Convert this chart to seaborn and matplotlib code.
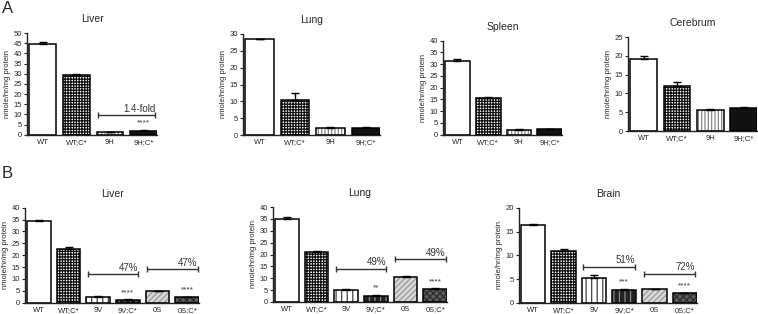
import matplotlib
matplotlib.use("Agg")
from matplotlib import pyplot as plt
from matplotlib.patches import Rectangle
import numpy as np
import seaborn as sns

# ---- data ----
groups_a = ["WT", "WT;C*", "9H", "9H;C*"]
groups_b = ["WT", "WT;C*", "9V", "9V;C*", "0S", "0S;C*"]

liver_a = [44.5, 29.3, 1.3, 1.9]
liver_a_err = [1.0, 0.5, 0.2, 0.3]
lung_a = [28.5, 10.5, 2.0, 2.1]
lung_a_err = [0.0, 2.0, 0.3, 0.2]
spleen_a = [31.5, 15.7, 2.2, 2.3]
spleen_a_err = [0.7, 0.5, 0.1, 0.1]
cerebrum_a = [19.2, 12.0, 5.5, 6.2]
cerebrum_a_err = [0.8, 1.0, 0.4, 0.2]

liver_b = [34.3, 22.8, 2.6, 1.3, 4.8, 2.3]
liver_b_err = [0.6, 0.8, 0.1, 0.1, 0.3, 0.1]
lung_b = [35.0, 21.0, 5.1, 2.5, 10.6, 5.3]
lung_b_err = [0.6, 0.3, 0.4, 0.5, 0.2, 0.4]
brain_b = [16.4, 11.0, 5.2, 2.7, 2.8, 2.0]
brain_b_err = [0.2, 0.3, 0.6, 0.2, 0.05, 0.1]

# comparison brackets: (first group, second group, bracket height, label, stars)
liver_a_marks = [("9H", "9H;C*", 9.7, "1.4-fold", "****")]
liver_b_marks = [("9V", "9V;C*", 12.0, "47%", "****"), ("0S", "0S;C*", 14.0, "47%", "****")]
lung_b_marks = [("9V", "9V;C*", 14.0, "49%", "**"), ("0S", "0S;C*", 18.0, "49%", "****")]
brain_b_marks = [("9V", "9V;C*", 7.6, "51%", "***"), ("0S", "0S;C*", 6.1, "72%", "****")]

# fill colour, hatch, hatch colour
styles = {
    "WT": ("white", "", "black"),
    "WT;C*": ("white", "++++++", "#111111"),
    "9H": ("white", "|||||", "#888888"),
    "9H;C*": ("#111111", "", "#111111"),
    "9V": ("white", "|||", "#444444"),
    "9V;C*": ("#222222", "|||", "#8a8a8a"),
    "0S": ("#d8d8d8", "//////", "#999999"),
    "0S;C*": ("#5e5e5e", "xxxxx", "#2a2a2a"),
}

sns.set_style("ticks")
plt.rcParams["font.family"] = ["Liberation Sans", "DejaVu Sans"]
plt.rcParams["hatch.linewidth"] = 0.9

fig = plt.figure(figsize=(7.58, 3.14), dpi=100)
W, H = 758.0, 314.0


def add_ax(x0, x1, ytop, ybot):
    return fig.add_axes([x0 / W, 1 - ybot / H, (x1 - x0) / W, (ybot - ytop) / H])


def panel(ax, groups, vals, errs, title, ymax, marks=()):
    sns.barplot(x=groups, y=vals, hue=groups, order=groups, hue_order=groups,
                palette={g: styles[g][0] for g in groups}, legend=False,
                errorbar=None, width=0.8, ax=ax, saturation=1)
    for p, g in zip(list(ax.patches), groups):
        fc, hatch, hc = styles[g]
        p.set_facecolor(fc)
        p.set_hatch(hatch)
        p.set_edgecolor(hc)
        p.set_linewidth(0)
        ax.add_patch(Rectangle((p.get_x(), p.get_y()), p.get_width(), p.get_height(),
                               fill=False, edgecolor="black", linewidth=1.1, zorder=3))
    xs = np.arange(len(groups))
    ax.errorbar(xs, vals, yerr=[np.zeros(len(errs)), errs], fmt="none",
                ecolor="black", elinewidth=1.0, capsize=3, capthick=1.0, zorder=4)
    for g1, g2, yb, label, stars in marks:
        i1, i2 = groups.index(g1), groups.index(g2)
        ax.plot([i1 - 0.35, i2 + 0.35], [yb, yb], color="#333333", lw=1.0,
                marker="|", markersize=5, markeredgewidth=1.0, zorder=4)
        ax.annotate(label, (i2 + 0.35, yb), xytext=(0, 1), textcoords="offset points",
                    ha="right", va="bottom", fontsize=7, color="#333333")
        ax.annotate(stars, (i2, vals[i2] + errs[i2]), xytext=(0, 2.5), textcoords="offset points",
                    ha="center", va="bottom", fontsize=6, color="#333333")
    ax.set_ylim(0, ymax)
    ax.set_xlim(-0.47, len(groups) - 0.6)
    ax.set_yticks(np.arange(0, ymax + 1, 5))
    ax.tick_params(axis="y", labelsize=5.5, length=2.5, width=0.8, pad=1)
    ax.tick_params(axis="x", labelsize=5.5, length=0, pad=3)
    ax.set_ylabel("nmole/hr/mg protein", fontsize=5.5, labelpad=2)
    ax.set_title(title, fontsize=7.5, pad=8)
    for s in ("top", "right"):
        ax.spines[s].set_visible(False)
    for s in ("left", "bottom"):
        ax.spines[s].set_linewidth(1.0)
        ax.spines[s].set_color("#222222")


panel(add_ax(27, 157, 33, 134.7), groups_a, liver_a, liver_a_err, "Liver", 50, liver_a_marks)
panel(add_ax(243, 380, 34, 135), groups_a, lung_a, lung_a_err, "Lung", 30)
panel(add_ax(443, 562, 40.7, 134.7), groups_a, spleen_a, spleen_a_err, "Spleen", 40)
panel(add_ax(628, 757, 37, 131), groups_a, cerebrum_a, cerebrum_a_err, "Cerebrum", 25)

panel(add_ax(25, 199, 207.7, 302.7), groups_b, liver_b, liver_b_err, "Liver", 40, liver_b_marks)
panel(add_ax(273, 447, 207, 302), groups_b, lung_b, lung_b_err, "Lung", 40, lung_b_marks)
panel(add_ax(519, 697, 208, 302.7), groups_b, brain_b, brain_b_err, "Brain", 20, brain_b_marks)

fig.text(2 / W, 1 - 1 / H, "A", fontsize=12, va="top", ha="left")
fig.text(2 / W, 1 - 166 / H, "B", fontsize=12, va="top", ha="left")

fig.savefig("out.png", dpi=100)
